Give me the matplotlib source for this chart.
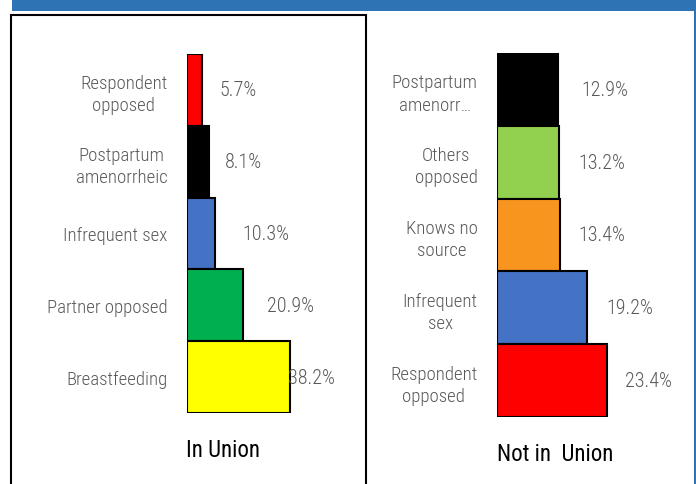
import matplotlib.pyplot as plt
from matplotlib import font_manager
from matplotlib.patches import Rectangle

# data - reasons for not using contraception, by union status
union_labels = ["Respondent\nopposed", "Postpartum\namenorrheic", "Infrequent sex",
                "Partner opposed", "Breastfeeding"]
union_values = [5.7, 8.1, 10.3, 20.9, 38.2]
union_colors = ["#FF0000", "#000000", "#4472C4", "#00B050", "#FFFF00"]

notunion_labels = ["Postpartum\namenorr\u2026", "Others\nopposed", "Knows no\nsource",
                   "Infrequent\nsex", "Respondent\nopposed"]
notunion_values = [12.9, 13.2, 13.4, 19.2, 23.4]
notunion_colors = ["#000000", "#92D050", "#F8951F", "#4472C4", "#FF0000"]

# label nudges (points), as placed in the original
union_offsets = [12, 11.5, 20, 17, -1.5]
notunion_offsets = [17, 13.5, 13, 13.5, 13]

# original uses a narrow font - pick any condensed face that is installed
names = {f.name for f in font_manager.fontManager.ttflist}
stretches = {f.name for f in font_manager.fontManager.ttflist
             if str(f.stretch) in ("condensed", "semi-condensed", "extra-condensed")}
narrow = None
for cand in ["Roboto Condensed", "Liberation Sans Narrow", "DejaVu Sans Condensed",
             "Open Sans Condensed", "Noto Sans Condensed"]:
    if cand in names:
        narrow = cand
        break
stretch = "normal"
if narrow is None:
    for cand in ["Roboto", "DejaVu Sans", "Noto Sans", "Open Sans"]:
        if cand in stretches:
            narrow = cand
            stretch = "condensed"
            break
if narrow is None:
    narrow = "DejaVu Sans"

plt.rcParams["font.family"] = [narrow, "DejaVu Sans"]
plt.rcParams["font.stretch"] = stretch

W, H = 696, 485
fig = plt.figure(figsize=(W / 100, H / 100), dpi=100)

# slide header band and frames
fig.patches.append(Rectangle((12 / W, 1 - 12 / H), 1, 12 / H, transform=fig.transFigure,
                             facecolor="#2E74B5", edgecolor="none"))
fig.patches.append(Rectangle((11 / W, -0.05), (366 - 11) / W, 1 - 16 / H + 0.05,
                             transform=fig.transFigure, facecolor="none",
                             edgecolor="black", linewidth=1.5))
fig.patches.append(Rectangle((694 / W, 0), 2 / W, 1, transform=fig.transFigure,
                             facecolor="#2E74B5", edgecolor="none"))

grey = "#595959"


def panel(rect, labels, values, colors, offsets, xmax, title, title_x, title_y):
    ax = fig.add_axes(rect)
    ys = list(range(len(values)))
    ax.barh(ys, values, height=1.0, color=colors, edgecolor="black", linewidth=1.5)
    ax.set_xlim(0, xmax)
    ax.set_ylim(len(values) - 0.5, -0.5)
    ax.set_yticks(ys)
    ax.set_yticklabels(labels, fontsize=13.5, color=grey, multialignment="center",
                       linespacing=1.3, fontweight="light")
    ax.tick_params(axis="y", length=0, pad=14)
    ax.set_xticks([])
    for s in ax.spines.values():
        s.set_visible(False)
    ax.patch.set_alpha(0)
    for y, v, off in zip(ys, values, offsets):
        ax.annotate(f"{v:.1f}%", (v, y), xytext=(off, 0), textcoords="offset points",
                    ha="left", va="center", fontsize=14.5, color=grey, fontweight="light")
    fig.text(title_x / W, 1 - title_y / H, title, fontsize=16.5, color="black",
             ha="left", va="center")
    return ax


panel([187 / W, 1 - 414 / H, 179 / W, 359 / H], union_labels, union_values,
      union_colors, union_offsets, 179 / 2.7, "In Union", 186, 451)
panel([497 / W, 1 - 418 / H, 190 / W, 364 / H], notunion_labels, notunion_values,
      notunion_colors, notunion_offsets, 190 / 4.71, "Not in  Union", 497, 455)

fig.savefig("out.png", dpi=100)
